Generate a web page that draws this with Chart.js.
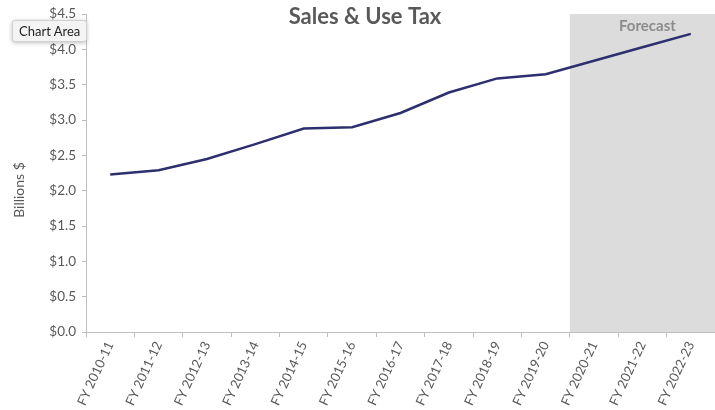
<!DOCTYPE html>
<html>
<head>
<meta charset="utf-8">
<script src="https://cdn.jsdelivr.net/npm/chart.js@4"></script>
<style>
    html, body { margin: 0; padding: 0; background: #fff; }
    .wrap { position: relative; width: 715px; height: 410px; }
    .tip {
        position: absolute; left: 12px; top: 20px;
        padding: 2px 6px; font: 13px Lato, sans-serif; color: #222;
        background: #f4f4f4; border: 1px solid #d0d0d0; border-radius: 3px;
        box-shadow: 0 1px 4px rgba(0,0,0,0.25);
    }
</style>
</head>
<body>
<div class="wrap">
    <canvas id="chart" width="715" height="410"></canvas>
    <div class="tip">Chart Area</div>
</div>
<script>
const years = ['FY 2010-11', 'FY 2011-12', 'FY 2012-13', 'FY 2013-14', 'FY 2014-15', 'FY 2015-16',
    'FY 2016-17', 'FY 2017-18', 'FY 2018-19', 'FY 2019-20', 'FY 2020-21', 'FY 2021-22', 'FY 2022-23'];
const salesTax = [2.23, 2.29, 2.45, 2.66, 2.88, 2.90, 3.10, 3.39, 3.59, 3.65, 3.84, 4.03, 4.22]; // billions
const forecastFrom = 'FY 2020-21';
const titleText = 'Sales & Use Tax';
const yTitle = 'Billions $';

const font = 'Lato, sans-serif';
const grey = '#595959';

// grey band behind the forecast years; chart title and y title drawn on top
const overlay = {
    id: 'overlay',
    beforeDatasetsDraw(chart) {
        const { ctx, chartArea, scales: { x } } = chart;
        const left = x.getPixelForValue(years.indexOf(forecastFrom) - 0.5);
        ctx.save();
        ctx.fillStyle = '#dcdcdc';
        ctx.fillRect(left, chartArea.top, chartArea.right - left, chartArea.bottom - chartArea.top);
        ctx.fillStyle = '#8c8c8c';
        ctx.font = 'bold 15px ' + font;
        ctx.textAlign = 'center';
        ctx.textBaseline = 'middle';
        ctx.fillText('Forecast', (left + chartArea.right) / 2 + 5, chartArea.top + 12);
        ctx.restore();
    },
    afterDraw(chart) {
        const { ctx } = chart;
        ctx.save();
        ctx.fillStyle = grey;
        ctx.font = 'bold 22px ' + font;
        ctx.textAlign = 'center';
        ctx.textBaseline = 'middle';
        ctx.fillText(titleText, 365, 17);
        ctx.font = '14px ' + font;
        ctx.translate(19, 190);
        ctx.rotate(-Math.PI / 2);
        ctx.fillText(yTitle, 0, 0);
        ctx.restore();
    }
};

new Chart(document.getElementById('chart'), {
    type: 'line',
    data: {
        labels: years,
        datasets: [{
            label: titleText,
            data: salesTax,
            borderColor: '#2e2f6e',
            borderWidth: 2.5,
            pointRadius: 0,
            tension: 0,
            fill: false
        }]
    },
    options: {
        responsive: false,
        animation: false,
        layout: { padding: { top: 12, left: 0, right: 0, bottom: 0 } },
        plugins: { legend: { display: false }, tooltip: { enabled: false } },
        scales: {
            x: {
                offset: true,
                grid: { offset: true, drawOnChartArea: false, tickLength: 5, color: '#bfbfbf' },
                border: { display: true, color: '#bfbfbf' },
                ticks: { color: grey, font: { family: 'Lato', size: 13 }, minRotation: 65, maxRotation: 65, autoSkip: false, padding: 2 },
                afterFit(scale) { scale.height = 78; }
            },
            y: {
                min: 0,
                max: 4.5,
                ticks: {
                    stepSize: 0.5,
                    color: grey,
                    font: { family: 'Lato', size: 13.5 },
                    padding: 6,
                    callback: v => '$' + v.toFixed(1)
                },
                grid: { drawOnChartArea: false, tickLength: 4, color: '#bfbfbf' },
                border: { display: true, color: '#bfbfbf' },
                afterFit(scale) { scale.width = 86; }
            }
        }
    },
    plugins: [overlay]
});
</script>
</body>
</html>
